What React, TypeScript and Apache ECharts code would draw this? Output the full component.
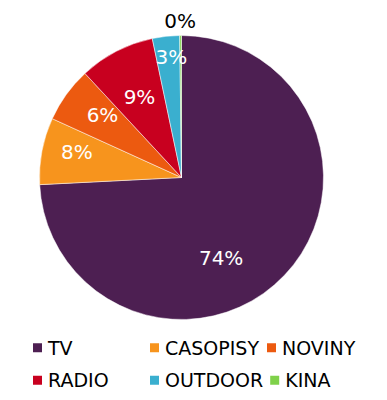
import React, { useEffect, useRef } from "react";
import * as echarts from "echarts";

const categories = ["TV", "CASOPISY", "NOVINY", "RADIO", "OUTDOOR", "KINA"];
const shares = [74.2, 7.6, 6.3, 8.6, 3.1, 0.2];
const colors = ["#4d1f52", "#f7941d", "#ec5a10", "#c8001f", "#3aafcf", "#7fd14a"];
const labelColors = ["#fff", "#fff", "#fff", "#fff", "#fff", "#000"];
// label nudges (dx, dy) from the default inside-label position
const labelShift = [
  [-14, 30],
  [-32, -12],
  [-19, -19],
  [-8, -15],
  [-2, -47],
  [-1, -83],
];

export default function App() {
  const ref = useRef<HTMLDivElement>(null);
  useEffect(() => {
    const chart = echarts.init(ref.current!, null, { renderer: "svg" });
    const font = "DejaVu Sans, Verdana, sans-serif";
    chart.setOption({
      animation: false,
      textStyle: { fontFamily: font },
      legend: {
        data: categories,
        left: 31,
        top: 334,
        padding: 0,
        width: 350,
        orient: "horizontal",
        itemWidth: 11,
        itemHeight: 11,
        itemGap: 5,
        icon: "rect",
        textStyle: {
          fontFamily: font,
          fontSize: 19,
          color: "#000",
          width: 95,
          overflow: "none",
          lineHeight: 27.5,
        },
      },
      series: [
        {
          type: "pie",
          center: [181.5, 177.5],
          radius: 142,
          startAngle: 90,
          clockwise: true,
          avoidLabelOverlap: false,
          itemStyle: { borderColor: "#ffffff", borderWidth: 0.5 },
          label: {
            show: true,
            position: "inside",
            fontFamily: font,
            fontSize: 20,
            formatter: (p: any) => Math.round(p.value) + "%",
          },
          labelLine: { show: false },
          labelLayout: (p: any) => ({
            dx: labelShift[p.dataIndex][0],
            dy: labelShift[p.dataIndex][1],
          }),
          emphasis: { disabled: true },
          data: categories.map((c, i) => ({
            name: c,
            value: shares[i],
            itemStyle: { color: colors[i] },
            label: { color: labelColors[i] },
          })),
        },
      ],
    });
    return () => chart.dispose();
  }, []);
  return (
    <div
      ref={ref}
      style={{ position: "fixed", left: 0, top: 0, width: 387, height: 400, background: "#fff" }}
    />
  );
}
